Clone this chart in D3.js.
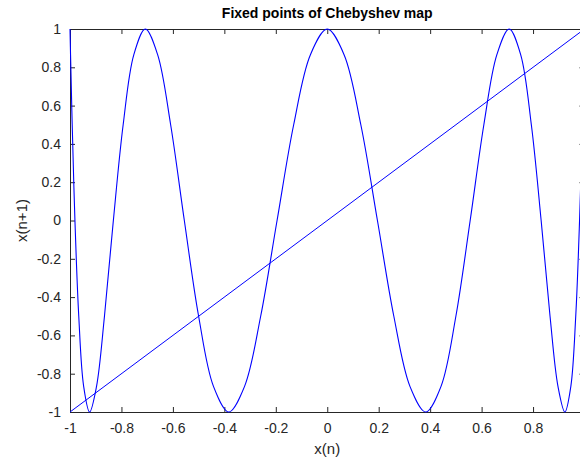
<!DOCTYPE html>
<html><head><meta charset="utf-8">
<script src="https://cdn.jsdelivr.net/npm/d3@7"></script>
<style>body{margin:0;background:#fff;}svg{display:block;font-family:Arial,"Liberation Sans",sans-serif;}</style>
</head><body>
<svg id="c" width="580" height="459"></svg>
<script>
const titleText = "Fixed points of Chebyshev map";
const xLabel = "x(n)";
const yLabel = "x(n+1)";
const xTicks = [-1, -0.8, -0.6, -0.4, -0.2, 0, 0.2, 0.4, 0.6, 0.8, 1];
const yTicks = [-1, -0.8, -0.6, -0.4, -0.2, 0, 0.2, 0.4, 0.6, 0.8, 1];
// Chebyshev map curve samples
const mapX = [-1, -0.99786, -0.99144, -0.98079, -0.96593, -0.94693, -0.92388, -0.89687, -0.86603, -0.83147, -0.79335, -0.75184,
  -0.70711, -0.65935, -0.60876, -0.55557, -0.5, -0.44229, -0.38268, -0.32144, -0.25882, -0.19509, -0.13053, -0.06540,
  0, 0.06540, 0.13053, 0.19509, 0.25882, 0.32144, 0.38268, 0.44229, 0.5, 0.55557, 0.60876, 0.65935,
  0.70711, 0.75184, 0.79335, 0.83147, 0.86603, 0.89687, 0.92388, 0.94693, 0.96593, 0.98079, 0.99144, 0.99786, 1];
const mapY = [1, 0.866, 0.5, 0, -0.5, -0.866, -1, -0.866, -0.5, 0, 0.5, 0.866,
  1, 0.866, 0.5, 0, -0.5, -0.866, -1, -0.866, -0.5, 0, 0.5, 0.866,
  1, 0.866, 0.5, 0, -0.5, -0.866, -1, -0.866, -0.5, 0, 0.5, 0.866,
  1, 0.866, 0.5, 0, -0.5, -0.866, -1, -0.866, -0.5, 0, 0.5, 0.866, 1];
// identity line
const lineX = [-1, 1];
const lineY = [-1, 1];

const L = 70, R = 584.5, T = 29, B = 412;
const svg = d3.select("#c");
const x = d3.scaleLinear().domain([-1, 1]).range([L, R]);
const y = d3.scaleLinear().domain([-1, 1]).range([B, T]);
const axisColor = "#262626";

const tl = 5;
function styleAxis(g) {
  g.select(".domain").attr("stroke", axisColor).attr("stroke-width", 1);
  g.selectAll(".tick line").attr("stroke", axisColor);
  g.selectAll(".tick text").attr("fill", axisColor).attr("font-size", 14).attr("font-family", "Arial, 'Liberation Sans', sans-serif");
}
const fmt = d => String(d);
// bottom axis
svg.append("g").attr("transform", `translate(0,${B})`)
  .call(d3.axisBottom(x).tickValues(xTicks.slice(0, -1)).tickFormat(fmt).tickSizeInner(-tl).tickSizeOuter(0).tickPadding(11))
  .call(styleAxis);
// top axis
svg.append("g").attr("transform", `translate(0,${T})`)
  .call(d3.axisTop(x).tickValues(xTicks).tickFormat("").tickSizeInner(-tl).tickSizeOuter(0))
  .call(styleAxis);
// left axis
svg.append("g").attr("transform", `translate(${L},0)`)
  .call(d3.axisLeft(y).tickValues(yTicks).tickFormat(fmt).tickSizeInner(-tl).tickSizeOuter(0).tickPadding(9))
  .call(styleAxis);
// right axis
svg.append("g").attr("transform", `translate(${R},0)`)
  .call(d3.axisRight(y).tickValues(yTicks).tickFormat("").tickSizeInner(-tl).tickSizeOuter(0))
  .call(styleAxis);

const curveData = mapX.map((v, i) => [v, mapY[i]]);
svg.append("path").datum(curveData)
  .attr("fill", "none").attr("stroke", "#0000ff").attr("stroke-width", 1.1)
  .attr("d", d3.line().x(d => x(d[0])).y(d => y(d[1])).curve(d3.curveCatmullRom.alpha(0.5)));

const idData = lineX.map((v, i) => [v, lineY[i]]);
svg.append("path").datum(idData)
  .attr("fill", "none").attr("stroke", "#0000ff").attr("stroke-width", 1)
  .attr("d", d3.line().x(d => x(d[0])).y(d => y(d[1])));

svg.append("text").attr("x", (L + R) / 2).attr("y", 18).attr("text-anchor", "middle")
  .attr("font-weight", "bold").attr("font-size", 14).attr("fill", "#000").text(titleText);
svg.append("text").attr("x", (L + R) / 2).attr("y", 454).attr("text-anchor", "middle")
  .attr("font-size", 15).attr("fill", axisColor).text(xLabel);
svg.append("text").attr("transform", `translate(27,${(T + B) / 2}) rotate(-90)`).attr("text-anchor", "middle")
  .attr("font-size", 15).attr("fill", axisColor).text(yLabel);
</script>
</body></html>
